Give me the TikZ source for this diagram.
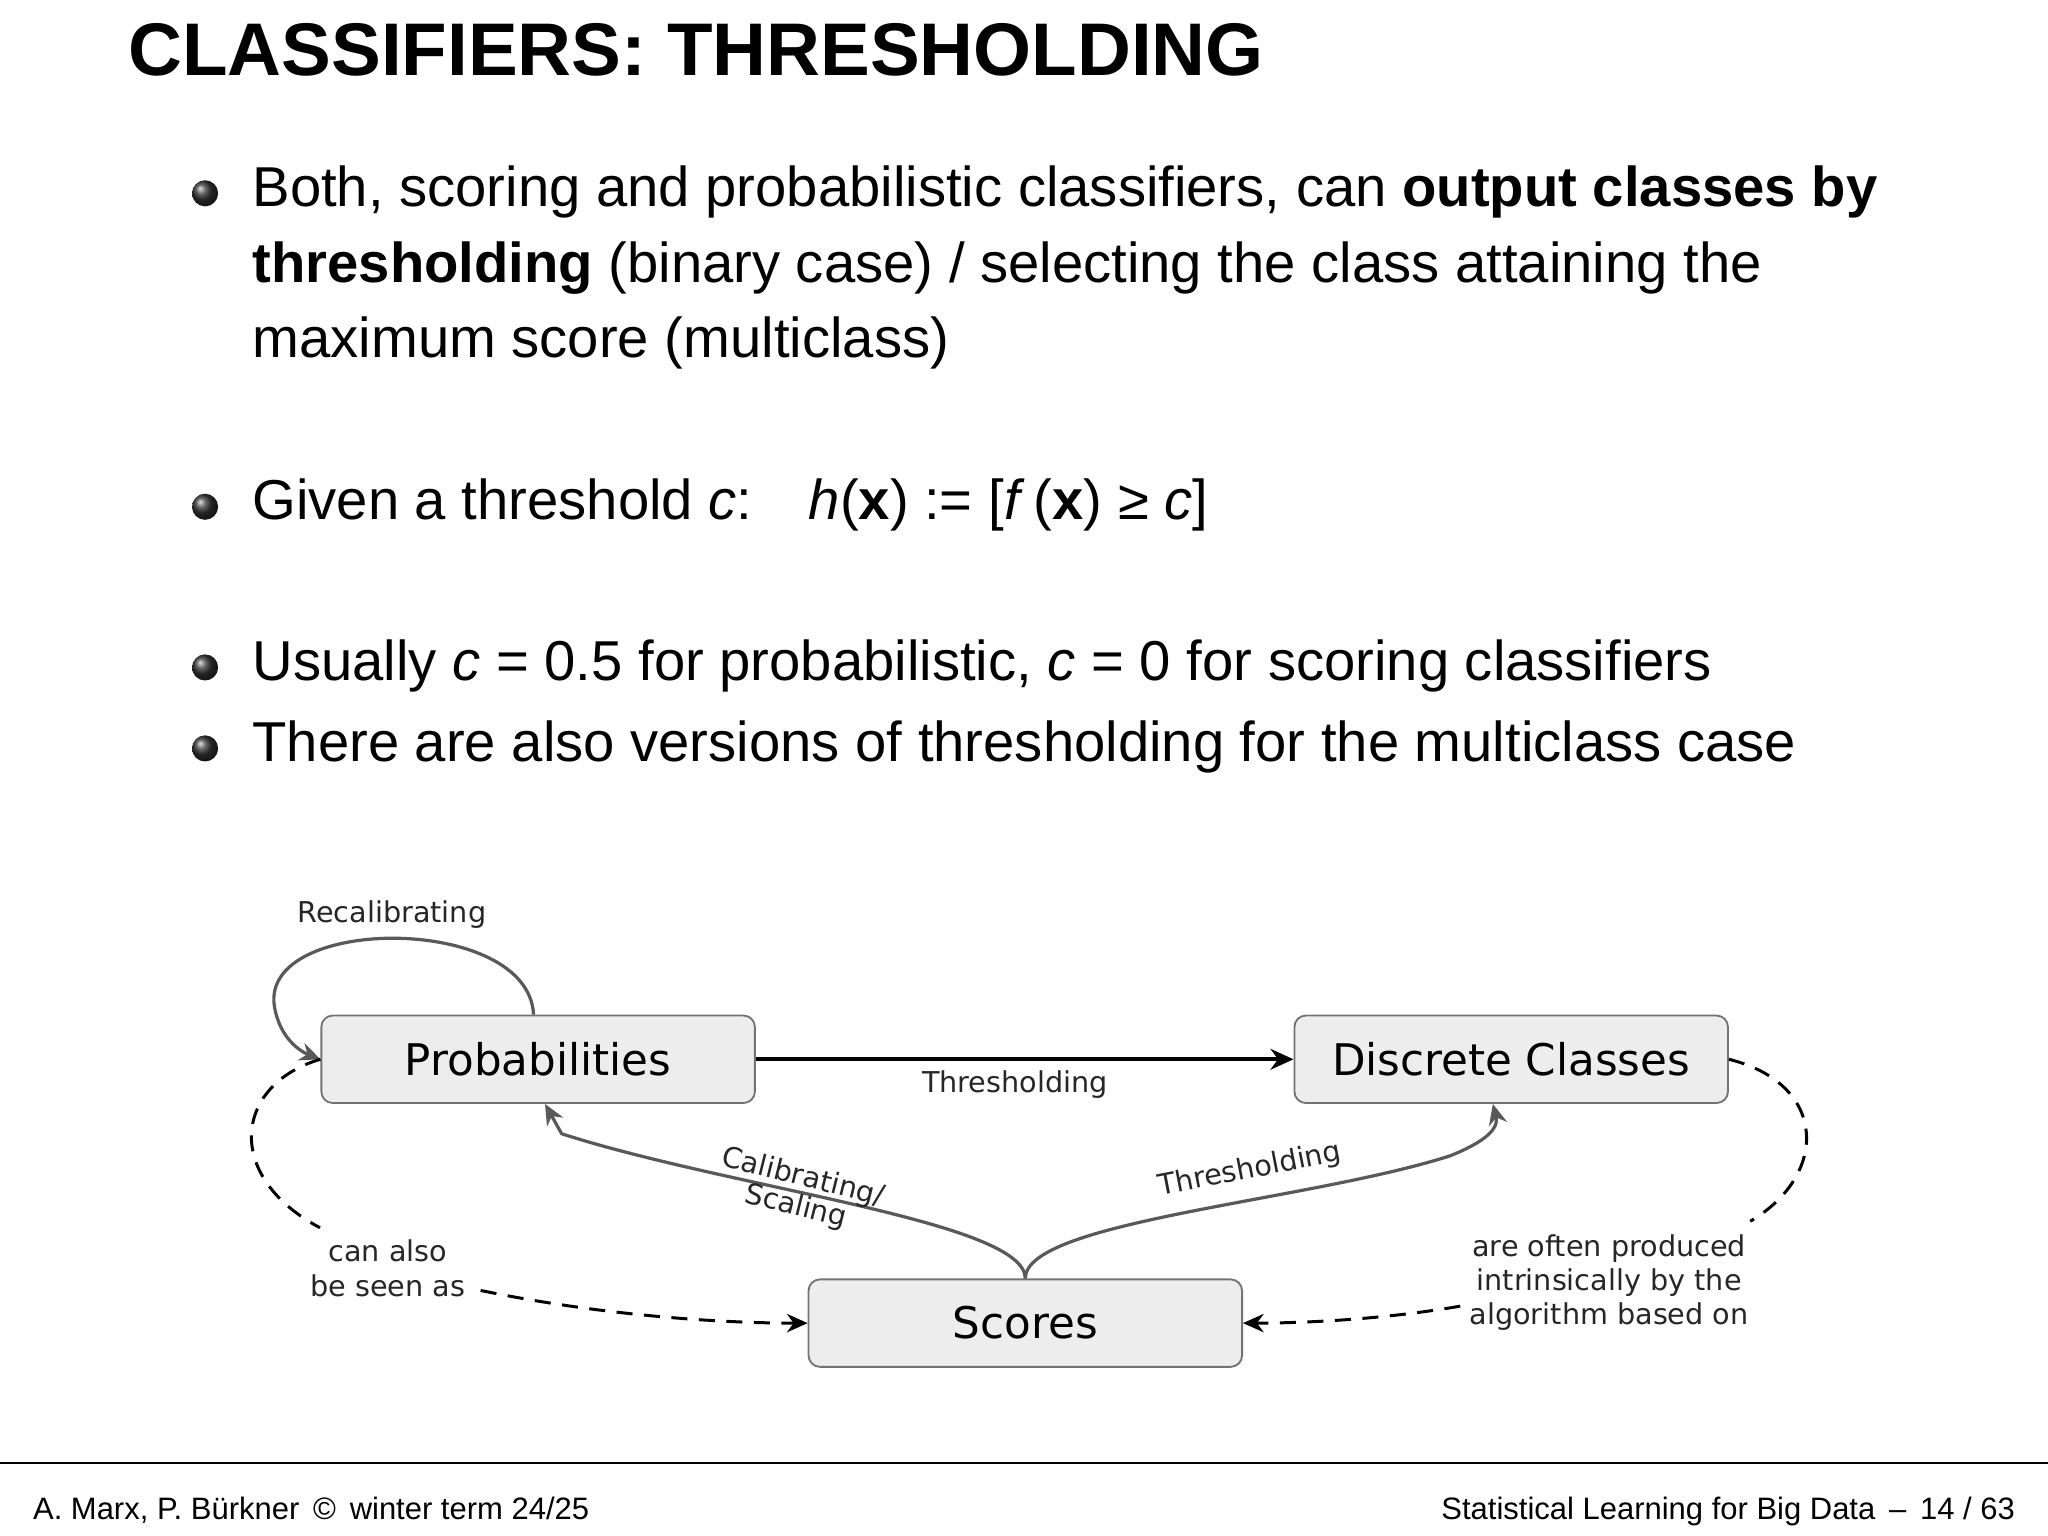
\documentclass[tikz,border=0pt]{standalone}
\usepackage{fontspec}
\setmainfont{Liberation Sans}
\newfontfamily\djvfont{DejaVu Sans}
\usetikzlibrary{arrows.meta}
\begin{document}
\begin{tikzpicture}[x=0.02cm,y=-0.02cm,
  box/.style={draw=black!55,fill=black!7,rounded corners=5pt,minimum width=6.64cm,minimum height=1.34cm,font=\djvfont\fontsize{19}{22}\selectfont,line width=0.8pt},
  lbl/.style={font=\djvfont\fontsize{12.5}{15}\selectfont,text=black!85,inner sep=1pt},
  garr/.style={draw=black!65,line width=1.4pt,-{Stealth[length=9pt,width=8pt]}},
  darr/.style={draw=black,line width=1.3pt,dash pattern=on 7pt off 5pt},
  body/.style={anchor=base west,inner sep=0pt,font=\fontsize{24.5}{29}\selectfont},
  foot/.style={inner sep=0pt,font=\fontsize{13.5}{16}\selectfont},
  dot/.style={circle,ball color=black!80,inner sep=0pt,minimum size=0.4cm}]
\useasboundingbox (0,0) rectangle (1568,1176);
% title
\node[anchor=base west,inner sep=0pt,font=\bfseries\fontsize{32.5}{38}\selectfont] (title) at (98,58) {CLASSIFIERS: THRESHOLDING};
% bullets
\node[dot] (d1) at (157,148) {};
\node[body] (t1) at (193,158) {Both, scoring and probabilistic classifiers, can \textbf{output classes by}};
\node[body] (t1b) at (193,216) {\textbf{thresholding} (binary case) / selecting the class attaining the};
\node[body] (t1c) at (193,274) {maximum score (multiclass)};
\node[dot] (d2) at (157,388) {};
\node[body] (t2) at (193,398) {Given a threshold \textit{c}:\quad \textit{h}(\textbf{x}) := [\textit{f}\,(\textbf{x}) ≥ \textit{c}]};
\node[dot] (d3) at (157,511) {};
\node[body] (t3) at (193,521) {Usually \textit{c} = 0.5 for probabilistic, \textit{c} = 0 for scoring classifiers};
\node[dot] (d4) at (157,573) {};
\node[body] (t4) at (193,583) {There are also versions of thresholding for the multiclass case};
% diagram
\node[box] (P) at (412,811) {Probabilities};
\node[box] (D) at (1157,811) {Discrete Classes};
\node[box] (S) at (785,1013) {Scores};
\draw[draw=black,line width=1.8pt,-{Stealth[length=10pt,width=9pt]}] (P.east) -- (D.west);
\node[lbl] (th1) at (777,830) {Thresholding};
\node[lbl] (rc) at (300,700) {Recalibrating};
\draw[garr] ([xshift=-2pt]P.north) .. controls (405,700) and (200,700) .. (210,770) .. controls (214,795) and (230,805) .. (P.west);
\draw[garr] (S.north) .. controls (785,935) and (560,910) .. (430,868) -- ([xshift=3pt]P.south);
\draw[garr] (S.north) .. controls (785,935) and (1000,920) .. (1110,885) .. controls (1135,875) and (1148,865) .. ([xshift=-8pt]D.south);
\node[lbl,rotate=-14,align=center] (cs) at (612,913) {Calibrating/\\[-2pt]Scaling};
\node[lbl,rotate=11] (th2) at (957,896) {Thresholding};
\node[lbl,align=center] (ca) at (297,971) {can also\\be seen as};
\node[lbl,align=center] (ao) at (1232,982) {are often produced\\intrinsically by the\\algorithm based on};
\draw[darr] (P.west) .. controls (180,830) and (170,900) .. (245,940);
\draw[darr,-{Stealth[length=9pt,width=8pt]}] (368,988) .. controls (450,1005) and (540,1013) .. (S.west);
\draw[darr] (D.east) .. controls (1400,830) and (1400,900) .. (1340,935);
\draw[darr,-{Stealth[length=9pt,width=8pt]}] (1118,1000) .. controls (1060,1010) and (1000,1013) .. (S.east);
% footer
\draw[line width=1pt] (0,1120) coordinate (fl) -- (1568,1120) coordinate (fr);
\node[anchor=base west,foot] (fa) at (25,1163) {A. Marx, P. Bürkner \,\textcopyright\, winter term 24/25};
\node[anchor=base east,foot] (fb) at (1543,1163) {Statistical Learning for Big Data \,–\, 14 / 63};
\end{tikzpicture}
\end{document}
